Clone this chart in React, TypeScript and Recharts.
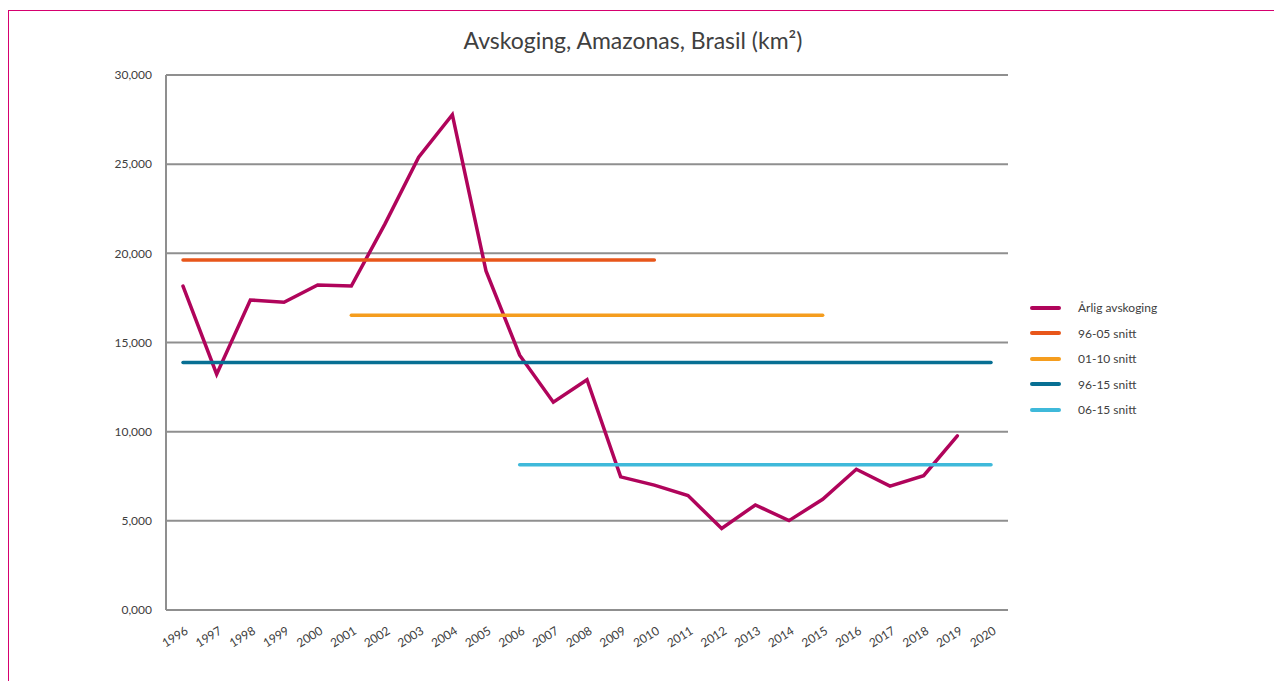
import React from 'react';
import { LineChart, Line, XAxis, YAxis, CartesianGrid, Legend } from 'recharts';

const years = [
  1996, 1997, 1998, 1999, 2000, 2001, 2002, 2003, 2004, 2005, 2006, 2007, 2008,
  2009, 2010, 2011, 2012, 2013, 2014, 2015, 2016, 2017, 2018, 2019, 2020,
];

// km2 per year (PRODES)
const annual = [
  18161, 13227, 17383, 17259, 18226, 18165, 21651, 25396, 27772, 19014, 14286, 11651, 12911,
  7464, 7000, 6418, 4571, 5891, 5012, 6207, 7893, 6947, 7536, 9762, null,
];

// average lines: [value, first year drawn, last year drawn]
const avg9605 = [19625, 1996, 2010];
const avg0110 = [16531, 2001, 2015];
const avg9615 = [13883, 1996, 2020];
const avg0615 = [8141, 2006, 2020];

const yTicks = [0, 5000, 10000, 15000, 20000, 25000, 30000];

const seriesNames = ['Årlig avskoging', '96-05 snitt', '01-10 snitt', '96-15 snitt', '06-15 snitt'];
const colors = ['#b0045b', '#e8561a', '#f59d1e', '#076f93', '#3fb9da'];

const span = (a: number[], y: number) => (y >= a[1] && y <= a[2] ? a[0] : null);

const data = years.map((y, i) => ({
  year: String(y),
  annual: annual[i],
  a9605: span(avg9605, y),
  a0110: span(avg0110, y),
  a9615: span(avg9615, y),
  a0615: span(avg0615, y),
}));

const FONT = 'Lato, "Open Sans", sans-serif';
const GRID = '#8f8f8f';

const YearTick = (props: any) => {
  const { x, y, payload } = props;
  const ax = x + 6;
  const ay = y + 15;
  return (
    <text
      x={ax}
      y={ay}
      transform={`rotate(-32, ${ax}, ${ay})`}
      textAnchor="end"
      fontSize={12}
      fontFamily={FONT}
      fill="#404040"
    >
      {payload.value}
    </text>
  );
};

const LegendBox = (props: any) => {
  const items = [...(props.payload || [])].sort(
    (a: any, b: any) => seriesNames.indexOf(a.value) - seriesNames.indexOf(b.value),
  );
  return (
    <div style={{ fontFamily: FONT, fontSize: 12, color: '#404040' }}>
      {items.map((p: any) => (
        <div key={p.value} style={{ display: 'flex', alignItems: 'center', height: 25.5 }}>
          <span
            style={{ width: 31, height: 4, borderRadius: 2, background: p.color, marginRight: 17, display: 'inline-block' }}
          />
          <span>{p.value}</span>
        </div>
      ))}
    </div>
  );
};

export default function App() {
  const keys = ['annual', 'a9605', 'a0110', 'a9615', 'a0615'];
  return (
    <div
      style={{
        position: 'relative',
        marginTop: 2,
        width: 1265,
        height: 670,
        borderTop: '1px solid #d6006f',
        borderLeft: '1px solid #d6006f',
        fontFamily: FONT,
      }}
    >
      <div
        style={{
          position: 'absolute',
          left: 0,
          top: 16,
          width: 1248,
          textAlign: 'center',
          fontSize: 23,
          lineHeight: '26px',
          color: '#404040',
        }}
      >
        Avskoging, Amazonas, Brasil (km²)
      </div>
      <LineChart width={1265} height={660} data={data} margin={{ top: 64, right: 266, bottom: 21, left: 97 }}>
        <CartesianGrid vertical={false} stroke={GRID} strokeWidth={2} />
        <XAxis
          dataKey="year"
          interval={0}
          padding={{ left: 17, right: 17 }}
          tickLine={false}
          axisLine={{ stroke: GRID, strokeWidth: 2 }}
          tick={<YearTick />}
          height={40}
        />
        <YAxis
          domain={[0, 30000]}
          ticks={yTicks}
          width={60}
          tickLine={false}
          tickMargin={8}
          axisLine={{ stroke: GRID, strokeWidth: 2 }}
          tick={{ fontSize: 12, fontFamily: FONT, fill: '#404040' }}
          tickFormatter={(v: number) => (v / 1000).toFixed(3).replace('.', ',')}
        />
        <Legend
          layout="vertical"
          align="center"
          verticalAlign="middle"
          wrapperStyle={{ left: 1021, top: 284, width: 200 }}
          content={<LegendBox />}
        />
        {keys.map((k, i) => (
          <Line
            key={k}
            type="linear"
            dataKey={k}
            name={seriesNames[i]}
            stroke={colors[i]}
            strokeWidth={3.5}
            dot={false}
            activeDot={false}
            strokeLinecap="round"
            isAnimationActive={false}
          />
        ))}
      </LineChart>
    </div>
  );
}
